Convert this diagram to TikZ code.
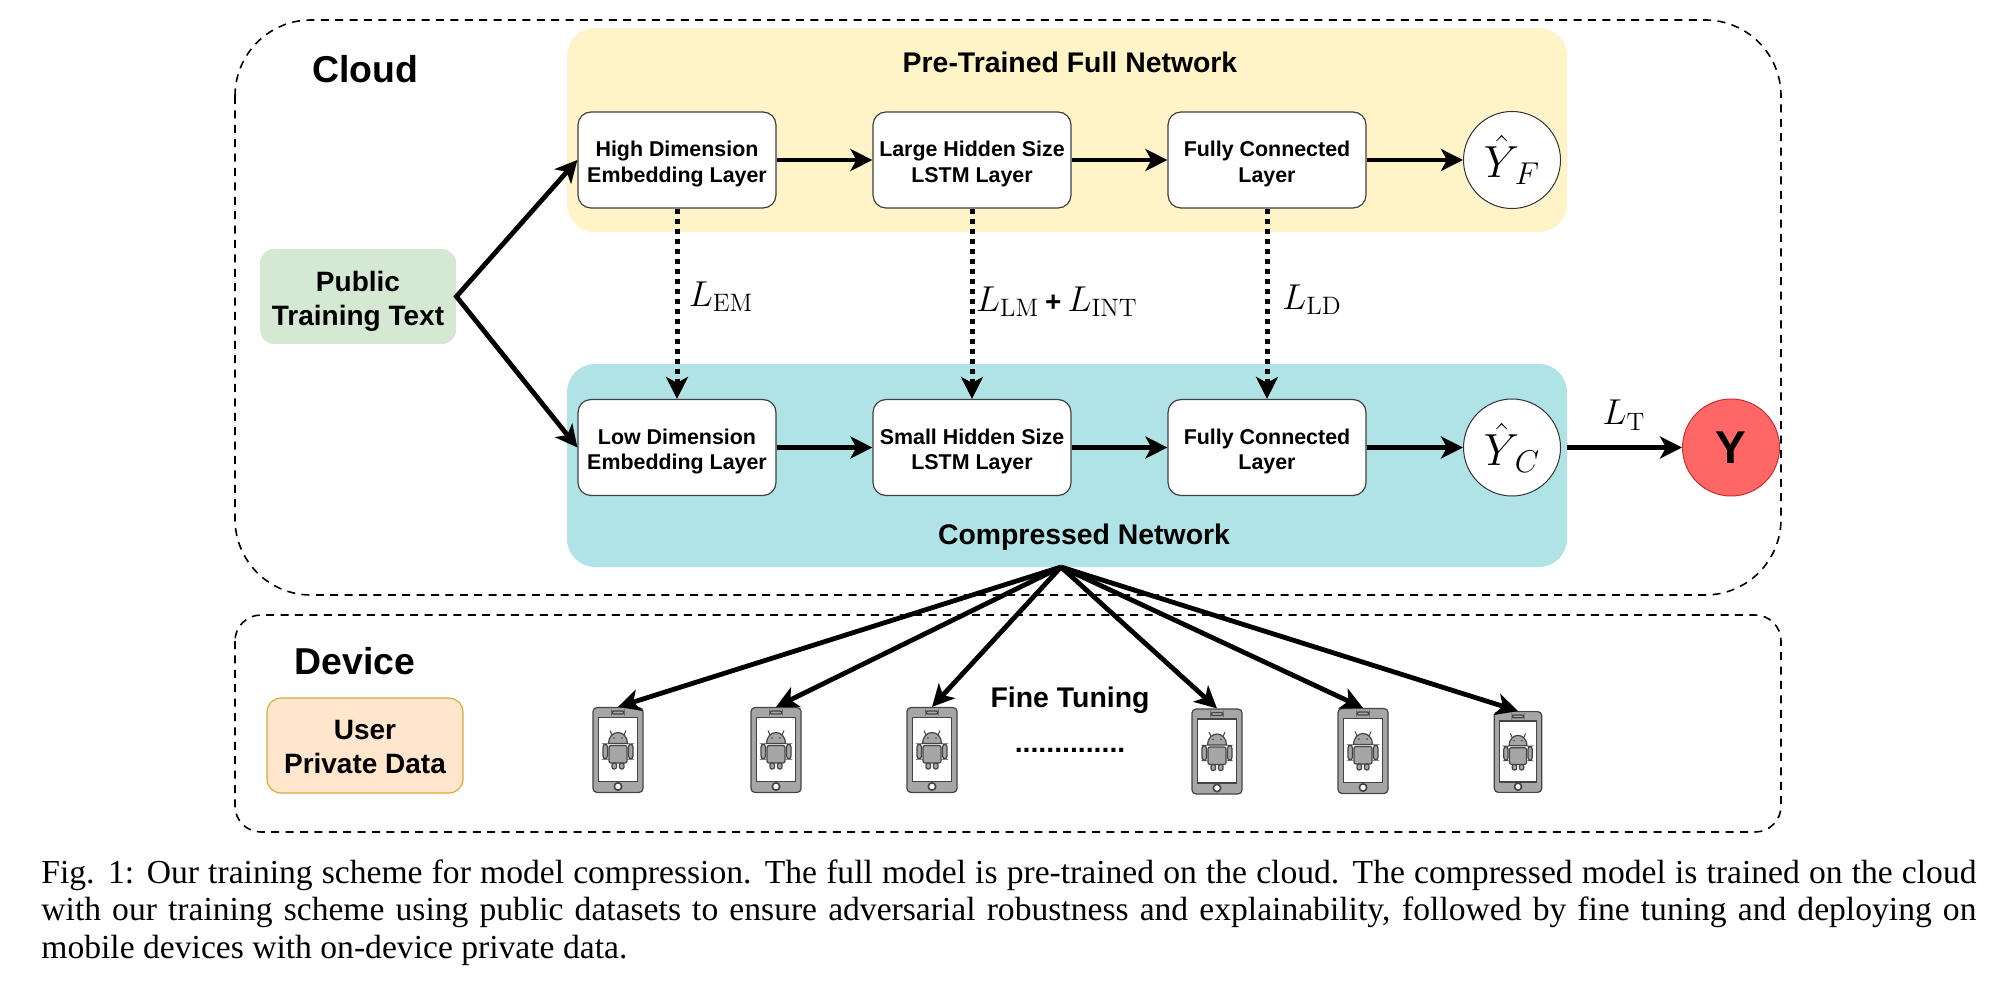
\documentclass[tikz,border=0pt]{standalone}
\usepackage{fix-cm}
\usepackage[no-math]{fontspec}
\newfontfamily\sansfont{Liberation Sans}
\newfontfamily\serifcap{Liberation Serif}
\usetikzlibrary{arrows.meta}
\definecolor{yellowpanel}{HTML}{FFF3C8}
\definecolor{tealpanel}{HTML}{B0E3E6}
\definecolor{greenpanel}{HTML}{D5E8D4}
\definecolor{orangepanel}{HTML}{FFE6CC}
\definecolor{orangeline}{HTML}{E0A83C}
\definecolor{redfill}{HTML}{FF6666}
\definecolor{redline}{HTML}{C8302E}
\definecolor{phonegrey}{HTML}{A6A6A6}
\definecolor{phoneline}{HTML}{444444}
\def\lup{\rule{0pt}{11.6pt}}
\tikzset{
  dashbox/.style={draw=black,line width=.8pt,dash pattern=on 4pt off 3.2pt},
  panel/.style={rounded corners=14pt,inner sep=0pt,minimum width=500pt},
  layer/.style={draw=black!75,fill=white,line width=.6pt,rounded corners=6.5pt,minimum width=99pt,minimum height=48pt,inner sep=0pt,align=center,font=\sansfont\fontsize{10.7}{12.8}\selectfont\bfseries},
  outcome/.style={circle,draw=black!80,fill=white,line width=.5pt,minimum size=48.5pt,inner sep=0pt},
  datum/.style={rounded corners=7pt,minimum width=98pt,minimum height=47.5pt,inner sep=0pt,align=center,font=\sansfont\fontsize{14}{17}\selectfont\bfseries},
  title/.style={inner sep=0pt,font=\sansfont\fontsize{14.2}{17}\selectfont\bfseries},
  heading/.style={inner sep=0pt,font=\sansfont\fontsize{18.7}{22}\selectfont\bfseries},
  loss/.style={inner sep=0pt,font=\fontsize{18}{21}\selectfont},
  flow/.style={line width=2.4pt,->},
  match/.style={line width=2.5pt,->,dash pattern=on 2.5pt off 2.5pt},
  part/.style={draw=phoneline,fill=phonegrey,line width=.6pt},
}
\begin{document}
\begin{tikzpicture}[x=.5pt,y=-.5pt,>={Stealth[length=11pt,width=11pt,inset=3pt]}]
\useasboundingbox (0,0) rectangle (2000,988);
% outer regions
\draw[dashbox,rounded corners=38pt](235,20)rectangle(1781,595);
\draw[dashbox,rounded corners=13pt](235,615)rectangle(1781,832);
\node[heading](cloudlabel)at(365,69){Cloud};
\node[heading](devicelabel)at(355,661){Device};
% network panels
\node[panel,fill=yellowpanel,minimum height=102pt](fullpanel)at(1067,130){};
\node[panel,fill=tealpanel,minimum height=101.5pt](smallpanel)at(1067,465.5){};
\node[title](fulltitle)at(1070,62){Pre-Trained Full Network};
\node[title](smalltitle)at(1084,537){Compressed Network};
% data
\node[datum,fill=greenpanel](public)at(358,296.5){\rule{0pt}{14.7pt}Public\\Training Text};
\node[datum,fill=orangepanel,draw=orangeline,line width=.6pt](private)at(365,745.5){\rule{0pt}{11.5pt}User\\Private Data};
% layers
\node[layer](highem)at(677,160){\lup High Dimension\\Embedding Layer};
\node[layer](largelstm)at(972,160){\lup Large Hidden Size\\LSTM Layer};
\node[layer](fullfc)at(1267,160){\lup Fully Connected\\Layer};
\node[outcome](yfull)at(1512,160){\fontsize{22.5}{26}\selectfont$\hat{Y}_{\,F}$};
\node[layer](lowem)at(677,447.5){\lup Low Dimension\\Embedding Layer};
\node[layer](smalllstm)at(972,447.5){\lup Small Hidden Size\\LSTM Layer};
\node[layer](smallfc)at(1267,447.5){\lup Fully Connected\\Layer};
\node[outcome](ysmall)at(1512,447.5){\fontsize{22.5}{26}\selectfont$\hat{Y}_{\,C}$};
\node[outcome,fill=redfill,draw=redline,font=\sansfont\fontsize{23}{26}\selectfont\bfseries](ytrue)at(1731,447.5){Y};
% forward paths
\draw[flow,<->](highem.west)--(public.east)--(lowem.west);
\draw[flow](highem)--(largelstm);
\draw[flow](largelstm)--(fullfc);
\draw[flow](fullfc)--(yfull);
\draw[flow](lowem)--(smalllstm);
\draw[flow](smalllstm)--(smallfc);
\draw[flow](smallfc)--(ysmall);
\coordinate(tstart)at(1567,447.5);
\draw[flow](tstart)--(ytrue);
% distillation
\draw[match](highem)--(lowem);
\draw[match](largelstm)--(smalllstm);
\draw[match](fullfc)--(smallfc);
\node[loss](lem)at(721,297){$L_{\mathrm{EM}}$};
\node[loss](llm)at(1057,302){$L_{\mathrm{LM}}$\,{\sansfont\bfseries\fontsize{14}{17}\selectfont+}\,$L_{\mathrm{INT}}$};
\node[loss](lld)at(1312,300){$L_{\mathrm{LD}}$};
\node[loss](lt)at(1624,415){$L_{\mathrm{T}}$};
% phones
\foreach \x/\y/\s/\n in {618/750/1/1,776/750/1/2,932/750/1/3,1217/751.5/1/4,1363/751/1/5,1518/752/.95/6}{
\begin{scope}[shift={(\x,\y)},scale=\s]
\node[part,rounded corners=2pt,minimum width=25pt*\s,minimum height=42.5pt*\s,inner sep=0pt](phone\n)at(0,0){};
\draw[draw=phoneline,fill=white,line width=.8pt](-19.5,-32.5)rectangle(19.5,31.5);
\draw[part,rounded corners=1pt](-6,-39)rectangle(6,-36);
\draw[draw=phoneline,fill=white,line width=.8pt](0,36.5)circle(3.7);
% robot
\draw[part,line width=.5pt](-6,-15)--(-8,-19.5);
\draw[part,line width=.5pt](6,-15)--(8,-19.5);
\draw[part](-9.5,-6.5)..controls(-9.5,-13)and(-5,-17.5)..(0,-17.5)..controls(5,-17.5)and(9.5,-13)..(9.5,-6.5)--cycle;
\fill[phoneline](-4,-12)circle(.9);
\fill[phoneline](4,-12)circle(.9);
\draw[part,rounded corners=1pt](-9,-4.5)rectangle(9,13);
\draw[part,rounded corners=1.5pt](-15,-6)rectangle(-10.5,9);
\draw[part,rounded corners=1.5pt](10.5,-6)rectangle(15,9);
\draw[part,rounded corners=1pt](-6,13)rectangle(-1.5,19);
\draw[part,rounded corners=1pt](1.5,13)rectangle(6,19);
\end{scope}
}
\coordinate(fan)at(1061,567);
\foreach \n in {1,...,6}{
\draw[flow](fan)--(phone\n.north);
}
\node[title](fine)at(1070,700){Fine Tuning};
\node[title](dots)at(1070,750){..............};
% caption
\node[anchor=north west,inner sep=0pt,text width=967.5pt,align=justify,font=\serifcap\fontsize{16.8}{18.75}\selectfont](caption)at(41,859){Fig. 1: Our training scheme for model compression. The full model is pre-trained on the cloud. The compressed model is trained on the cloud\linebreak with our training scheme using public datasets to ensure adversarial robustness and explainability, followed by fine tuning and deploying on\linebreak mobile devices with on-device private data.};
\end{tikzpicture}
\end{document}
